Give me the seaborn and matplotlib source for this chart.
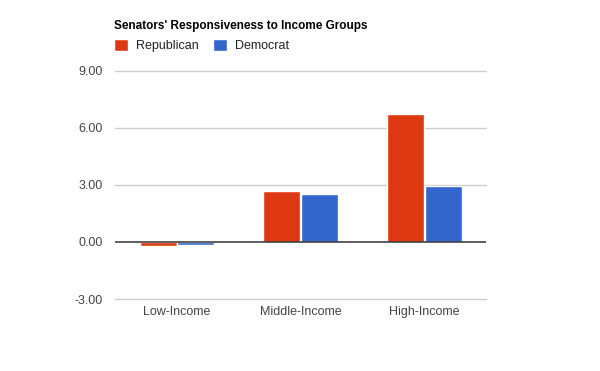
import pandas as pd
import seaborn as sns
import matplotlib.pyplot as plt

groups = ["Low-Income", "Middle-Income", "High-Income"]
republican = [-0.2, 2.68, 6.74]
democrat = [-0.15, 2.53, 2.95]
parties = ["Republican", "Democrat"]
colors = ["#DC3912", "#3366CC"]
yticks = [-3, 0, 3, 6, 9]

df = pd.DataFrame({
    "group": groups * 2,
    "party": [parties[0]] * 3 + [parties[1]] * 3,
    "value": republican + democrat,
})

sns.set_style("white")
plt.rcParams["font.family"] = ["Liberation Sans", "DejaVu Sans"]

fig = plt.figure(figsize=(6, 3.71), dpi=100)
ax = fig.add_axes([0.192, 0.194, 0.618, 0.615])

sns.barplot(data=df, x="group", y="value", hue="party", order=groups,
            hue_order=parties, palette=colors, width=0.61, gap=0.02,
            saturation=1, errorbar=None, ax=ax, zorder=3)

ax.set_ylim(-3, 9)
ax.set_xlim(-0.5, 2.5)
ax.set_yticks(yticks)
ax.set_yticklabels([f"{t:.2f}" for t in yticks])
for t in yticks:
    if t == 0:
        ax.axhline(t, color="#333333", lw=1.1, zorder=4)
    else:
        ax.axhline(t, color="#cccccc", lw=1, zorder=1, clip_on=False)

ax.set_xlabel("")
ax.set_ylabel("")
ax.tick_params(axis="both", length=0, labelsize=9, colors="#444444")
ax.tick_params(axis="y", pad=9)
ax.tick_params(axis="x", pad=5)
for s in ax.spines.values():
    s.set_visible(False)

handles, labels = ax.get_legend_handles_labels()
ax.legend_.remove()
fig.legend(handles, labels, loc="upper left", bbox_to_anchor=(0.172, 0.925),
           ncol=2, frameon=False, fontsize=9, handlelength=1.1,
           handleheight=1.1, handletextpad=0.6, columnspacing=1.2,
           labelcolor="#222222")

fig.text(0.19, 0.93, "Senators' Responsiveness to Income Groups",
         fontsize=8.5, fontweight="bold", color="#000000", va="center")

fig.savefig("out.png", dpi=100)
